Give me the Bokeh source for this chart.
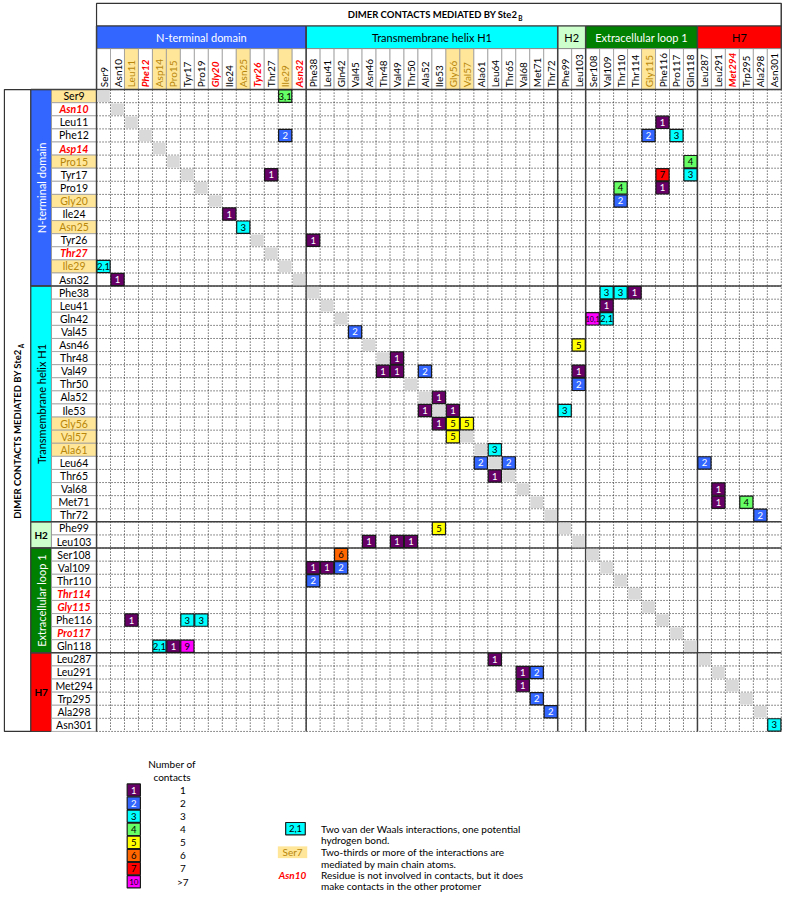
import math
from bokeh.plotting import figure
from bokeh.models import Range1d, ColumnDataSource
from bokeh.core.properties import value
from bokeh.embed import file_html
from bokeh.resources import INLINE

# ---------------- data ----------------
residues = ["Ser9", "Asn10", "Leu11", "Phe12", "Asp14", "Pro15", "Tyr17", "Pro19", "Gly20", "Ile24",
            "Asn25", "Tyr26", "Thr27", "Ile29", "Asn32",
            "Phe38", "Leu41", "Gln42", "Val45", "Asn46", "Thr48", "Val49", "Thr50", "Ala52", "Ile53",
            "Gly56", "Val57", "Ala61", "Leu64", "Thr65", "Val68", "Met71", "Thr72",
            "Phe99", "Leu103",
            "Ser108", "Val109", "Thr110", "Thr114", "Gly115", "Phe116", "Pro117", "Gln118",
            "Leu287", "Leu291", "Met294", "Trp295", "Ala298", "Asn301"]

# n = plain, y = main-chain (yellow), r = not involved (red italic), k = yellow box, dark text
col_style = ["n", "n", "y", "r", "y", "y", "n", "n", "r", "n", "y", "r", "n", "y", "r",
             "n", "n", "n", "n", "n", "n", "n", "n", "n", "n", "y", "y", "n", "n", "n", "n", "n", "n",
             "n", "n",
             "n", "n", "n", "n", "y", "n", "n", "n",
             "n", "n", "r", "n", "n", "n"]
row_style = ["k", "r", "n", "n", "r", "y", "n", "n", "y", "n", "y", "n", "r", "y", "n",
             "n", "n", "n", "n", "n", "n", "n", "n", "n", "n", "y", "y", "y", "n", "n", "n", "n", "n",
             "n", "n",
             "n", "n", "n", "r", "r", "n", "r", "n",
             "n", "n", "n", "n", "n", "n"]

domain_names = ["N-terminal domain", "Transmembrane helix H1", "H2", "Extracellular loop 1", "H7"]
domain_sizes = [15, 18, 2, 8, 6]
domain_colors = ["#3366FF", "#00FFFF", "#CCFFCC", "#008000", "#FF0000"]
domain_text_colors = ["white", "black", "black", "white", "black"]

contact_row = ["Ser9", "Leu11", "Phe12", "Phe12", "Phe12", "Pro15", "Tyr17", "Tyr17", "Tyr17", "Pro19",
               "Pro19", "Gly20", "Ile24", "Asn25", "Tyr26", "Ile29", "Asn32",
               "Phe38", "Phe38", "Phe38", "Leu41", "Gln42", "Gln42", "Val45", "Asn46", "Thr48",
               "Val49", "Val49", "Val49", "Val49", "Thr50", "Ala52", "Ile53", "Ile53", "Ile53",
               "Gly56", "Gly56", "Gly56", "Val57", "Ala61", "Leu64", "Leu64", "Leu64", "Thr65",
               "Val68", "Met71", "Met71", "Thr72",
               "Phe99", "Leu103", "Leu103", "Leu103",
               "Ser108", "Val109", "Val109", "Val109", "Thr110", "Phe116", "Phe116", "Phe116",
               "Gln118", "Gln118", "Gln118",
               "Leu287", "Leu291", "Leu291", "Met294", "Trp295", "Ala298", "Asn301"]
contact_col = ["Ile29", "Phe116", "Ile29", "Gly115", "Pro117", "Gln118", "Thr27", "Phe116", "Gln118", "Thr110",
               "Phe116", "Thr110", "Ile24", "Asn25", "Phe38", "Ser9", "Asn10",
               "Val109", "Thr110", "Thr114", "Val109", "Ser108", "Val109", "Val45", "Leu103", "Val49",
               "Thr48", "Val49", "Ala52", "Leu103", "Leu103", "Ile53", "Ala52", "Gly56", "Phe99",
               "Ile53", "Gly56", "Val57", "Gly56", "Leu64", "Ala61", "Thr65", "Leu287", "Leu64",
               "Leu291", "Leu291", "Trp295", "Ala298",
               "Ile53", "Asn46", "Val49", "Thr50",
               "Gln42", "Phe38", "Leu41", "Gln42", "Phe38", "Leu11", "Tyr17", "Pro19",
               "Asp14", "Pro15", "Tyr17",
               "Leu64", "Val68", "Met71", "Val68", "Met71", "Thr72", "Asn301"]
contact_text = ["3,1", "1", "2", "2", "3", "4", "1", "7", "3", "4",
                "1", "2", "1", "3", "1", "2,1", "1",
                "3", "3", "1", "1", "10,1", "2,1", "2", "5", "1",
                "1", "1", "2", "1", "2", "1", "1", "1", "3",
                "1", "5", "5", "5", "3", "2", "2", "2", "1",
                "1", "1", "4", "2",
                "5", "1", "1", "1",
                "6", "1", "1", "2", "2", "1", "3", "3",
                "2,1", "1", "9",
                "1", "1", "2", "1", "2", "2", "3"]
contact_total = [4, 1, 2, 2, 3, 4, 1, 7, 3, 4,
                 1, 2, 1, 3, 1, 3, 1,
                 3, 3, 1, 1, 11, 3, 2, 5, 1,
                 1, 1, 2, 1, 2, 1, 1, 1, 3,
                 1, 5, 5, 5, 3, 2, 2, 2, 1,
                 1, 1, 4, 2,
                 5, 1, 1, 1,
                 6, 1, 1, 2, 2, 1, 3, 3,
                 3, 1, 9,
                 1, 1, 2, 1, 2, 2, 3]

legend_numbers = ["1", "2", "3", "4", "5", "6", "7", "10"]
legend_labels = ["1", "2", "3", "4", "5", "6", "7", ">7"]
legend_totals = [1, 2, 3, 4, 5, 6, 7, 10]

note_lines = ["Two van der Waals interactions, one potential", "hydrogen bond.",
              "Two-thirds or more of the interactions are", "mediated by main chain atoms.",
              "Residue is not involved in contacts, but it does", "make contacts in the other protomer"]

# ---------------- style ----------------
def count_color(n):
    return {1: "#660066", 2: "#3366FF", 3: "#00FFFF", 4: "#66FF66", 5: "#FFFF00",
            6: "#FF6600", 7: "#FF0000"}.get(n, "#FF00FF")

def count_text_color(n):
    return "white" if n in (1, 2) else "black"

YEL = "#FFE699"
GOLD = "#B8860B"
FONT = value("Lato")

X0, CW = 98.0, 14.26
Y0, CH = 90.7, 13.333
N = len(residues)
X1 = X0 + N * CW
Y1 = Y0 + N * CH
idx = {r: i for i, r in enumerate(residues)}

def cx(i):
    return X0 + (i + 0.5) * CW

def cy(i):
    return Y0 + (i + 0.5) * CH

p = figure(width=784, height=894, x_range=Range1d(0, 800), y_range=Range1d(910, 0),
           output_backend="svg", toolbar_location=None, x_axis_type=None, y_axis_type=None,
           min_border=0)
p.grid.visible = False
p.outline_line_color = None
p.background_fill_color = "white"

starts = [sum(domain_sizes[:k]) for k in range(len(domain_sizes))]
ends = [s + n for s, n in zip(starts, domain_sizes)]

# --- top title box ---
p.quad(left=[X0], right=[X1], top=[3], bottom=[26], fill_color="white", line_color="#333333", line_width=1.2)
p.text(x=[X0 + 0.5 * N * CW + 80], y=[14.5], text=["DIMER CONTACTS MEDIATED BY Ste2"], text_font=FONT,
       text_font_size="9.5px", text_font_style="bold", text_align="right", text_baseline="middle")
p.text(x=[X0 + 0.5 * N * CW + 81], y=[18], text=["B"], text_font=FONT,
       text_font_size="6.5px", text_font_style="bold", text_align="left", text_baseline="middle")

# --- top domain bars ---
p.quad(left=[X0 + s * CW for s in starts], right=[X0 + e * CW for e in ends],
       top=[26] * len(starts), bottom=[49] * len(starts),
       fill_color=domain_colors, line_color="#333333", line_width=1)
p.text(x=[X0 + (s + e) / 2 * CW for s, e in zip(starts, ends)], y=[37.5] * len(starts),
       text=domain_names, text_color=domain_text_colors, text_font=FONT, text_font_size="11px",
       text_align="center", text_baseline="middle")

# --- column header cells ---
col_fill = [YEL if s in ("y", "k") else "white" for s in col_style]
p.quad(left=[X0 + i * CW for i in range(N)], right=[X0 + (i + 1) * CW for i in range(N)],
       top=[49] * N, bottom=[Y0] * N, fill_color=col_fill, line_color="#9A9A9A", line_width=0.8)

def lab_color(s):
    return {"n": "black", "k": "black", "y": GOLD, "r": "#FF0000"}[s]

def lab_style(s):
    return "bold italic" if s == "r" else "normal"

colsrc = ColumnDataSource(dict(x=[cx(i) for i in range(N)], y=[Y0 - 2.5] * N, t=residues,
                               c=[lab_color(s) for s in col_style], st=[lab_style(s) for s in col_style]))
p.text(x="x", y="y", text="t", text_color="c", text_font_style="st", source=colsrc, angle=math.pi / 2,
       text_font=FONT, text_font_size="10px", text_align="left", text_baseline="middle")

# --- left outer box and title ---
p.quad(left=[4], right=[31], top=[Y0], bottom=[Y1], fill_color="white", line_color="#333333", line_width=1.2)
p.text(x=[17.5], y=[355], text=["DIMER CONTACTS MEDIATED BY Ste2"], angle=math.pi / 2, text_font=FONT,
       text_font_size="9.5px", text_font_style="bold", text_align="right", text_baseline="middle")
p.text(x=[21], y=[354], text=["A"], angle=math.pi / 2, text_font=FONT,
       text_font_size="6.5px", text_font_style="bold", text_align="left", text_baseline="middle")

# --- left domain bars ---
p.quad(left=[31] * len(starts), right=[52] * len(starts),
       top=[Y0 + s * CH for s in starts], bottom=[Y0 + e * CH for e in ends],
       fill_color=domain_colors, line_color="#333333", line_width=1)
hori = [k for k in range(len(domain_names)) if domain_sizes[k] <= 2 or domain_names[k] == "H7"]
vert = [k for k in range(len(domain_names)) if k not in hori]
p.text(x=[41.5] * len(vert), y=[Y0 + (starts[k] + ends[k]) / 2 * CH for k in vert],
       text=[domain_names[k] for k in vert], text_color=[domain_text_colors[k] for k in vert],
       angle=math.pi / 2, text_font=FONT, text_font_size="11px", text_align="center", text_baseline="middle")
p.text(x=[41.5] * len(hori), y=[Y0 + (starts[k] + ends[k]) / 2 * CH for k in hori],
       text=[domain_names[k] for k in hori], text_color=[domain_text_colors[k] for k in hori],
       text_font=FONT, text_font_size="10px", text_font_style="bold", text_align="center", text_baseline="middle")

# --- row label cells ---
row_fill = [YEL if s in ("y", "k") else "white" for s in row_style]
p.quad(left=[52] * N, right=[X0] * N, top=[Y0 + i * CH for i in range(N)],
       bottom=[Y0 + (i + 1) * CH for i in range(N)], fill_color=row_fill, line_color="#9A9A9A", line_width=0.8)
rowsrc = ColumnDataSource(dict(x=[75] * N, y=[cy(i) for i in range(N)], t=residues,
                               c=[lab_color(s) for s in row_style], st=[lab_style(s) for s in row_style]))
p.text(x="x", y="y", text="t", text_color="c", text_font_style="st", source=rowsrc,
       text_font=FONT, text_font_size="10.5px", text_align="center", text_baseline="middle")

# --- dotted grid ---
p.segment(x0=[X0 + i * CW for i in range(N + 1)], y0=[Y0] * (N + 1),
          x1=[X0 + i * CW for i in range(N + 1)], y1=[Y1] * (N + 1),
          line_color="#222222", line_width=1, line_dash="1 2")
p.segment(x0=[X0] * (N + 1), y0=[Y0 + i * CH for i in range(N + 1)],
          x1=[X1] * (N + 1), y1=[Y0 + i * CH for i in range(N + 1)],
          line_color="#222222", line_width=1, line_dash="1 2")

# --- solid domain boundaries ---
bounds = starts
p.segment(x0=[X0 + b * CW for b in bounds], y0=[26] * len(bounds),
          x1=[X0 + b * CW for b in bounds], y1=[Y1] * len(bounds), line_color="#404040", line_width=1.5)
p.segment(x0=[31] * len(bounds), y0=[Y0 + b * CH for b in bounds],
          x1=[X1] * len(bounds), y1=[Y0 + b * CH for b in bounds], line_color="#404040", line_width=1.5)
p.segment(x0=[X1], y0=[3], x1=[X1], y1=[Y0], line_color="#404040", line_width=1.2)

# --- diagonal (same residue) cells ---
diag_done = {(idx[r], idx[c]) for r, c in zip(contact_row, contact_col)}
dg = [i for i in range(N) if (i, i) not in diag_done]
p.rect(x=[cx(i) for i in dg], y=[cy(i) for i in dg], width=CW - 1.5, height=CH - 1.5,
       fill_color="#D9D9D9", line_color=None)

# --- contact cells ---
csrc = ColumnDataSource(dict(
    x=[cx(idx[c]) for c in contact_col], y=[cy(idx[r]) for r in contact_row],
    t=contact_text, f=[count_color(n) for n in contact_total],
    tc=[count_text_color(n) for n in contact_total],
    fs=["7px" if len(t) > 3 else "9.5px" for t in contact_text]))
p.rect(x="x", y="y", width=CW - 0.8, height=CH - 0.8, fill_color="f", line_color="#1a1a1a",
       line_width=1.2, source=csrc)
p.text(x="x", y="y", text="t", text_color="tc", text_font_size="fs", source=csrc,
       text_font=FONT, text_align="center", text_baseline="middle")

# --- legend ---
p.text(x=[175, 175], y=[777, 790], text=["Number of", "contacts"], text_font=FONT, text_font_size="10px",
       text_align="center", text_baseline="middle")
LY0 = 797.0
ly = [LY0 + (k + 0.5) * CH for k in range(len(legend_numbers))]
p.rect(x=[136] * len(ly), y=ly, width=CW - 0.8, height=CH - 0.8,
       fill_color=[count_color(n) for n in legend_totals], line_color="#1a1a1a", line_width=1.2)
p.text(x=[136] * len(ly), y=ly, text=legend_numbers, text_color=[count_text_color(n) for n in legend_totals],
       text_font=FONT, text_font_size=["9.5px" if len(t) < 2 else "8px" for t in legend_numbers],
       text_align="center", text_baseline="middle")
p.text(x=[186] * len(ly), y=ly, text=legend_labels, text_font=FONT, text_font_size="10px",
       text_align="center", text_baseline="middle")

p.rect(x=[301], y=[843], width=20, height=CH - 0.8, fill_color=count_color(3), line_color="#1a1a1a", line_width=1.2)
p.text(x=[301], y=[843], text=["2,1"], text_font=FONT, text_font_size="9.5px",
       text_align="center", text_baseline="middle")
p.rect(x=[298], y=[867], width=30, height=12, fill_color=YEL, line_color=None)
p.text(x=[298], y=[867], text=["Ser7"], text_color=GOLD, text_font=FONT, text_font_size="10px",
       text_align="center", text_baseline="middle")
p.text(x=[298], y=[890], text=["Asn10"], text_color="#FF0000", text_font=FONT, text_font_size="10px",
       text_font_style="bold italic", text_align="center", text_baseline="middle")
p.text(x=[327] * 6, y=[843, 855, 867, 878.5, 890, 901], text=note_lines, text_font=FONT,
       text_font_size="10px", text_align="left", text_baseline="middle")

open("out.html", "w").write(file_html(p, INLINE))
